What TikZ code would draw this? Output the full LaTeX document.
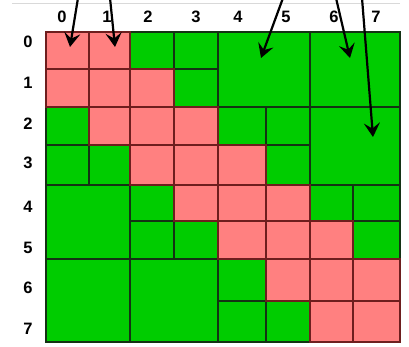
\documentclass[tikz,border=0pt]{standalone}
\usepackage{fontspec}
\setmainfont{Liberation Sans}
\usetikzlibrary{arrows.meta}
\definecolor{cgreen}{RGB}{0,204,0}
\definecolor{cpink}{RGB}{255,128,128}
\definecolor{cmaroon}{RGB}{110,30,30}
\definecolor{cdark}{RGB}{20,50,20}
\tikzset{
  greenblk/.style={fill=cgreen,draw=cdark,line width=1.3pt},
  pinkblk/.style={fill=cpink,draw=cmaroon,line width=1.3pt},
  lbl/.style={font=\bfseries\fontsize{16.5}{16.5}\selectfont,inner sep=0pt},
  pointer/.style={line width=2.2pt,-{Stealth[length=14pt,width=16pt,inset=5.5pt]}}
}
\def\xs{{46,89,130,174,218,266,310,353,400}}
\def\ys{{32,69,107,145,185,221,259,301,342}}
% block: row1 col1 row2 col2 style
\newcommand\blk[5]{\path[#5] ({\xs[#2]},{\ys[#1]}) rectangle ({\xs[#4+1]},{\ys[#3+1]});}
\begin{document}
\begin{tikzpicture}[x=1pt,y=-1pt]
\useasboundingbox (0,0) rectangle (409,347);
\fill[white] (0,0) rectangle (409,347);
\draw[black!15,line width=0.8pt] (12,3.3) -- (400,3.3);
% green blocks 1x1
\foreach \r/\c in {0/2,0/3,1/3,2/0,3/0,3/1,2/4,2/5,3/5,4/2,5/2,5/3,4/6,4/7,5/7,6/4,7/4,7/5}{
  \blk{\r}{\c}{\r}{\c}{greenblk}
}
% green blocks 2x2
\foreach \r/\c in {0/4,0/6,2/6,4/0,6/0,6/2}{
  \pgfmathtruncatemacro\rr{\r+1}
  \pgfmathtruncatemacro\cc{\c+1}
  \blk{\r}{\c}{\rr}{\cc}{greenblk}
}
% pink band
\foreach \r/\c in {0/0,0/1,1/0,1/1,1/2,2/1,2/2,2/3,3/2,3/3,3/4,4/3,4/4,4/5,5/4,5/5,5/6,6/5,6/6,6/7,7/6,7/7}{
  \blk{\r}{\c}{\r}{\c}{pinkblk}
}
% column labels
\foreach \i/\x in {0/62,1/107,2/148,3/196,4/238,5/286,6/334,7/376}{
  \node[lbl] (col\i) at (\x,17) {\i};
}
% row labels
\foreach \i/\y in {0/42,1/83,2/124,3/163,4/207,5/248,6/288,7/329}{
  \node[lbl] (row\i) at (28,\y) {\i};
}
% arrows
\coordinate (s1) at (78,-2);  \coordinate (t1) at (70,47);
\coordinate (s2) at (110,-2); \coordinate (t2) at (115,47);
\coordinate (s3) at (283,-2); \coordinate (t3) at (261,58);
\coordinate (s4) at (336,-2); \coordinate (t4) at (350,58);
\coordinate (s5) at (362,-2); \coordinate (t5) at (373,137);
\foreach \k in {1,...,5}{
  \draw[pointer] (s\k) -- (t\k);
}
\end{tikzpicture}
\end{document}
